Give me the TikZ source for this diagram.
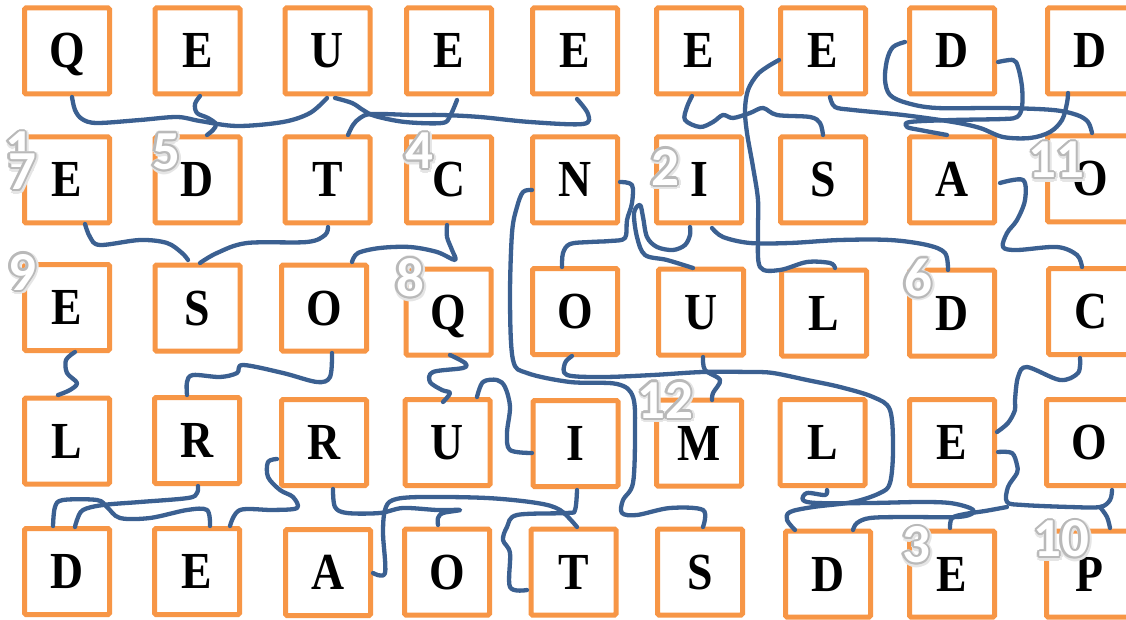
\documentclass[tikz,border=0pt]{standalone}
\usepackage{fontspec}
\newfontfamily\letterfont{Liberation Serif}
\newfontfamily\numfont{Carlito}
\definecolor{boxorange}{RGB}{247,150,70}
\definecolor{penblue}{RGB}{59,96,145}
\newcommand{\lt}[1]{\scalebox{0.88}[1]{#1}}
\newcommand{\outnum}[4]{% name, x, y, text
  \foreach \a in {0,45,...,315}{
    \node[numstyle, text=gray!20] at ([shift={(\a:3.6pt)}]#2+0.8,#3+0.8) {#4};
  }
  \foreach \a in {0,30,...,330}{
    \node[numstyle, text=gray!55] at ([shift={(\a:2.1pt)}]#2,#3) {#4};
  }
  \node[numstyle, text=white] (#1) at (#2,#3) {#4};
}
\begin{document}
\begin{tikzpicture}[x=1pt,y=-1pt,
  lbox/.style={draw=boxorange, line width=5pt, rounded corners=1.5pt,
    minimum width=85pt, minimum height=86pt, inner sep=0pt, fill=white},
  lett/.style={font=\letterfont\bfseries\fontsize{52}{52}\selectfont,
    text height=34pt, text depth=0pt, inner sep=0pt},
  pen/.style={draw=penblue, line width=4.3pt, line cap=round, line join=round},
  numstyle/.style={font=\numfont\bfseries\fontsize{55}{55}\selectfont, inner sep=0pt}]
\fill[white] (0,0) rectangle (1126,620);
\useasboundingbox (0,0) rectangle (1126,620);

% boxes
\foreach \n/\x/\y in {
  b00/67/51, b01/197.5/51, b02/327.5/51, b03/449/51, b04/575/51, b05/699/51, b06/823/51, b07/952/51, b08/1090/51,
  b10/67/180, b11/197.5/180, b12/327.5/180, b13/449/180, b14/575/180, b15/699/180, b16/823/180, b17/952/180, b18/1090/179,
  b20/67/307.5, b21/197.5/308, b22/324/308, b23/448.5/312, b24/575/311.5, b25/701/312, b26/824/313, b27/952/313, b28/1091/311.5,
  b30/67/441, b31/197/440.5, b32/324/442.5, b33/447.5/442.5, b34/575.5/443.5, b35/699/443, b36/822.5/442.5, b37/952/442.5, b38/1089/442.5,
  b40/67/571.5, b41/197/571.5, b42/328/572.5, b43/447/572, b44/573.5/572, b45/700/572, b46/828/574, b47/952/574, b48/1089/574}
  {\node[lbox] (\n) at (\x,\y) {};}

% pen lines
\draw[pen] plot[smooth, tension=0.55] coordinates {(72,97) (75,110) (82,119) (97,123) (140,120) (177,117) (200,121) (237,126) (283,122) (310,113) (327,98)};
\draw[pen] plot[smooth, tension=0.55] coordinates {(200,96) (195,104) (197,113) (208,118) (216,124) (213,130) (207,135)};
\draw[pen] plot[smooth, tension=0.55] coordinates {(335,98) (352,103) (363,110) (375,116) (405,122) (442,123) (450,116) (457,100)};
\draw[pen] plot[smooth, tension=0.55] coordinates {(348,135) (353,125) (360,118) (372,114) (413,115) (442,115) (480,117) (530,122) (583,124) (588,114) (577,99)};
\draw[pen] plot[smooth, tension=0.55] coordinates {(692,96) (687,107) (685,120) (700,127) (713,122) (723,115) (733,118) (750,113) (763,108) (777,115) (810,117) (820,123) (823,135)};
\draw[pen] plot[smooth, tension=0.55] coordinates {(779,60) (767,67) (757,75) (748,90) (745,110) (747,133) (753,167) (758,200) (758,233) (760,267) (780,270) (807,262) (830,263) (835,268)};
\draw[pen] plot[smooth, tension=0.55] coordinates {(830,97) (835,107) (853,110) (903,115) (953,122) (980,128) (1003,137) (1030,138) (1050,132) (1062,120) (1067,103) (1068,93)};
\draw[pen] plot[smooth, tension=0.55] coordinates {(905,42) (893,47) (887,60) (885,80) (890,95) (907,103) (937,108) (1003,108) (1053,110) (1077,115) (1088,122) (1092,133)};
\draw[pen] plot[smooth, tension=0.55] coordinates {(998,62) (1013,60) (1018,67) (1022,87) (1022,107) (1017,117) (1003,119) (953,120) (910,122) (907,127) (920,130) (947,135)};
\draw[pen] plot[smooth, tension=0.55] coordinates {(1000,183) (1023,180) (1025,200) (1017,220) (1007,233) (1003,247) (1017,250) (1057,247) (1077,255) (1082,267)};
\draw[pen] plot[smooth, tension=0.55] coordinates {(85,224) (90,237) (100,245) (140,240) (167,243) (182,253) (188,260)};
\draw[pen] plot[smooth, tension=0.55] coordinates {(328,227) (325,235) (307,242) (247,243) (217,253) (200,263)};
\draw[pen] plot[smooth, tension=0.55] coordinates {(352,262) (358,253) (380,248) (410,247) (437,252) (455,260) (452,250) (447,237) (447,225)};
\draw[pen] plot[smooth, tension=0.55] coordinates {(75,352) (66,360) (67,373) (77,383) (70,390) (58,395)};
\draw[pen] plot[smooth, tension=0.55] coordinates {(332,353) (330,377) (317,382) (283,373) (243,365) (237,373) (220,377) (193,375) (187,382) (187,395)};
\draw[pen] plot[smooth, tension=0.55] coordinates {(532,190) (523,192) (517,207) (512,233) (510,300) (513,360) (527,373) (570,382) (617,384) (633,397) (635,433) (633,483) (623,500) (622,513) (637,515) (670,508) (703,510) (703,527)};
\draw[pen] plot[smooth, tension=0.55] coordinates {(620,182) (632,185) (632,203) (627,220) (625,238) (610,241) (590,242) (570,244) (563,253) (562,267)};
\draw[pen] plot[smooth, tension=0.55] coordinates {(690,227) (690,235) (685,245) (673,250) (657,247) (647,237) (643,217) (640,205) (634,213) (637,237) (645,255) (667,260) (693,268)};
\draw[pen] plot[smooth, tension=0.55] coordinates {(712,228) (723,237) (750,243) (790,243) (840,240) (890,240) (927,245) (945,253) (948,270)};
\draw[pen] plot[smooth, tension=0.55] coordinates {(450,355) (465,363) (463,368) (433,372) (430,382) (442,390) (450,393) (443,402)};
\draw[pen] plot[smooth, tension=0.55] coordinates {(572,356) (565,363) (567,375) (603,377) (653,375) (703,372) (750,372) (773,373) (807,380) (840,387) (873,397) (890,410) (893,450) (890,483) (880,493) (853,502) (813,507) (790,512) (787,520) (795,530)};
\draw[pen] plot[smooth, tension=0.55] coordinates {(703,357) (705,370) (720,380) (713,393) (712,400)};
\draw[pen] plot[smooth, tension=0.55] coordinates {(477,397) (483,382) (497,380) (505,387) (510,407) (507,433) (510,450) (532,453)};
\draw[pen] plot[smooth, tension=0.55] coordinates {(1080,358) (1078,373) (1060,380) (1027,367) (1018,377) (1015,400) (1015,410) (1008,423) (997,432)};
\draw[pen] plot[smooth, tension=0.55] coordinates {(198,486) (197,493) (188,498) (140,502) (103,505) (83,510) (77,520) (75,527)};
\draw[pen] plot[smooth, tension=0.55] coordinates {(53,526) (55,507) (63,500) (97,500) (107,507) (120,518) (150,518) (187,510) (207,510) (210,526)};
\draw[pen] plot[smooth, tension=0.55] coordinates {(277,459) (268,462) (268,477) (280,490) (293,497) (297,508) (273,510) (240,510) (230,526)};
\draw[pen] plot[smooth, tension=0.55] coordinates {(333,489) (335,507) (347,513) (380,513) (403,508) (437,510) (460,510) (443,513) (438,518) (438,525)};
\draw[pen] plot[smooth, tension=0.55] coordinates {(373,573) (385,573) (383,533) (385,510) (393,500) (420,497) (487,498) (537,503) (560,510) (577,527)};
\draw[pen] plot[smooth, tension=0.55] coordinates {(577,490) (575,510) (567,513) (517,515) (507,527) (503,540) (510,553) (510,587) (527,590)};
\draw[pen] plot[smooth, tension=0.55] coordinates {(827,490) (825,495) (807,493) (803,500) (817,503) (870,503) (920,502) (950,503) (970,508) (973,513) (957,517) (903,517) (870,518) (857,523) (853,530)};
\draw[pen] plot[smooth, tension=0.55] coordinates {(998,452) (1012,453) (1017,465) (1017,473) (1008,487) (1007,502) (1023,505) (1070,507) (1100,507) (1110,500) (1112,490)};
\draw[pen] plot[smooth, tension=0.55] coordinates {(1100,507) (1107,517) (1110,528)};
\draw[pen] plot[smooth, tension=0.55] coordinates {(950,528) (952,518) (965,514) (985,511) (1007,507)};

% letters
\foreach \n/\t in {b00/Q, b01/E, b02/U, b03/E, b04/E, b05/E, b06/E, b07/D, b08/D,
  b10/E, b11/D, b12/T, b13/C, b14/N, b15/I, b16/S, b17/A, b18/O,
  b20/E, b21/S, b22/O, b23/Q, b24/O, b25/U, b26/L, b27/D, b28/C,
  b30/L, b31/R, b32/R, b33/U, b34/I, b35/M, b36/L, b37/E, b38/O,
  b40/D, b41/E, b42/A, b43/O, b44/T, b45/S, b46/D, b47/E, b48/P}
  {\node[lett] (t\n) at (\n.center) {\lt{\t}};}

% numbers
\outnum{n1}{19}{150}{1}
\outnum{n7}{22}{172}{7}
\outnum{n5}{166}{152}{5}
\outnum{n4}{419}{151}{4}
\outnum{n2}{665}{167}{2}
\outnum{n11}{1056}{160}{11}
\outnum{n9}{22}{272}{9}
\outnum{n8}{410}{278}{8}
\outnum{n6}{918}{278}{6}
\outnum{n12}{665}{400}{12}
\outnum{n3}{916}{545}{3}
\outnum{n10}{1061}{539}{10}
\end{tikzpicture}
\end{document}
